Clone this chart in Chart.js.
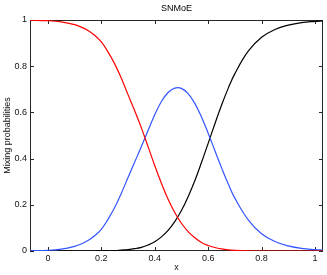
<!DOCTYPE html>
<html>
<head>
<meta charset="utf-8">
<script src="https://cdn.jsdelivr.net/npm/chart.js@4"></script>
<style>
  html, body { margin: 0; padding: 0; background: #fff; }
  #wrap { width: 327px; height: 275px; position: relative; }
</style>
</head>
<body>
<div id="wrap"><canvas id="chart"></canvas></div>
<script>
const TITLE = "SNMoE";
const X_LABEL = "x";
const Y_LABEL = "Mixing probabilities";

const xTicks = [0, 0.2, 0.4, 0.6, 0.8, 1];
const yTicks = [0, 0.2, 0.4, 0.6, 0.8, 1];

// sample positions along x
const xs = [-0.067, 0, 0.05, 0.1, 0.125, 0.15, 0.175, 0.2, 0.225, 0.25, 0.275, 0.3, 0.325, 0.35, 0.375, 0.4, 0.425,
  0.45, 0.475, 0.5, 0.525, 0.55, 0.575, 0.6, 0.625, 0.65, 0.675, 0.7, 0.75, 0.8, 0.85, 0.9, 0.95, 1.0, 1.03];

const red = [0.999, 0.997, 0.992, 0.980, 0.969, 0.955, 0.934, 0.905, 0.862, 0.810, 0.748, 0.677, 0.607, 0.533, 0.452,
  0.370, 0.293, 0.224, 0.167, 0.120, 0.084, 0.057, 0.037, 0.024, 0.015, 0.009, 0.005, 0.003, 0.001, 0, 0, 0, 0, 0, 0];

const blue = [0.001, 0.003, 0.008, 0.020, 0.030, 0.045, 0.066, 0.094, 0.137, 0.188, 0.250, 0.318, 0.385, 0.452, 0.522,
  0.590, 0.647, 0.686, 0.705, 0.704, 0.681, 0.639, 0.580, 0.510, 0.435, 0.361, 0.291, 0.229, 0.135, 0.075, 0.041,
  0.022, 0.011, 0.006, 0.004];

const black = [0, 0, 0, 0, 0, 0, 0, 0.001, 0.001, 0.002, 0.004, 0.006, 0.010, 0.016, 0.026, 0.040, 0.061, 0.089,
  0.127, 0.175, 0.235, 0.304, 0.383, 0.466, 0.550, 0.631, 0.704, 0.768, 0.865, 0.925, 0.959, 0.978, 0.989, 0.994, 0.996];

const FONT = { family: "'Liberation Sans', Arial, Helvetica, sans-serif", size: 9 };

function points(values) {
  return xs.map((x, i) => ({ x, y: values[i] }));
}

// matlab style box with inward ticks on all four sides, plus title over the plot area
const boxPlugin = {
  id: "box",
  beforeDatasetsDraw(chart) {
    const { ctx, chartArea: a, scales } = chart;
    ctx.save();
    ctx.strokeStyle = "#262626";
    ctx.lineWidth = 1;
    ctx.strokeRect(a.left + 0.5, a.top + 0.5, a.right - a.left - 1, a.bottom - a.top - 1);
    ctx.beginPath();
    for (const v of xTicks) {
      const px = Math.round(scales.x.getPixelForValue(v)) + 0.5;
      ctx.moveTo(px, a.bottom); ctx.lineTo(px, a.bottom - 4);
      ctx.moveTo(px, a.top); ctx.lineTo(px, a.top + 4);
    }
    for (const v of yTicks) {
      const py = Math.round(scales.y.getPixelForValue(v)) + 0.5;
      ctx.moveTo(a.left, py); ctx.lineTo(a.left + 4, py);
      ctx.moveTo(a.right, py); ctx.lineTo(a.right - 4, py);
    }
    ctx.stroke();
    ctx.fillStyle = "#000";
    ctx.font = `${FONT.size}px ${FONT.family}`;
    ctx.textAlign = "center";
    ctx.textBaseline = "middle";
    ctx.fillText(TITLE, (a.left + a.right) / 2, 9);
    ctx.restore();
  },
};

const line = (label, values, color) => ({
  label,
  data: points(values),
  borderColor: color,
  borderWidth: 1.2,
  pointRadius: 0,
  fill: false,
  tension: 0.4,
});

new Chart(document.getElementById("chart"), {
  type: "line",
  data: {
    datasets: [
      line("expert 1", red, "#ff0000"),
      line("expert 2", blue, "#3355ff"),
      line("expert 3", black, "#000000"),
    ],
  },
  options: {
    responsive: true,
    maintainAspectRatio: false,
    animation: false,
    layout: { padding: { top: 20, right: 4, left: 0, bottom: 0 } },
    plugins: { legend: { display: false }, tooltip: { enabled: false }, title: { display: false } },
    scales: {
      x: {
        type: "linear",
        min: -0.067,
        max: 1.03,
        afterBuildTicks: (scale) => { scale.ticks = xTicks.map((value) => ({ value })); },
        afterFit: (scale) => { scale.height = 24; },
        grid: { display: false, drawTicks: false },
        border: { display: false },
        ticks: { color: "#111", font: FONT, padding: 2, maxRotation: 0, autoSkip: false, callback: (v) => String(v) },
        title: { display: true, text: X_LABEL, color: "#111", font: FONT, padding: { top: 2, bottom: 2 } },
      },
      y: {
        type: "linear",
        min: 0,
        max: 1,
        afterBuildTicks: (scale) => { scale.ticks = yTicks.map((value) => ({ value })); },
        afterFit: (scale) => { scale.width = 30; },
        grid: { display: false, drawTicks: false },
        border: { display: false },
        ticks: { color: "#111", font: FONT, padding: 3, callback: (v) => String(v) },
        title: { display: true, text: Y_LABEL, color: "#111", font: FONT, padding: { top: 2, bottom: 2 } },
      },
    },
  },
  plugins: [boxPlugin],
});
</script>
</body>
</html>
